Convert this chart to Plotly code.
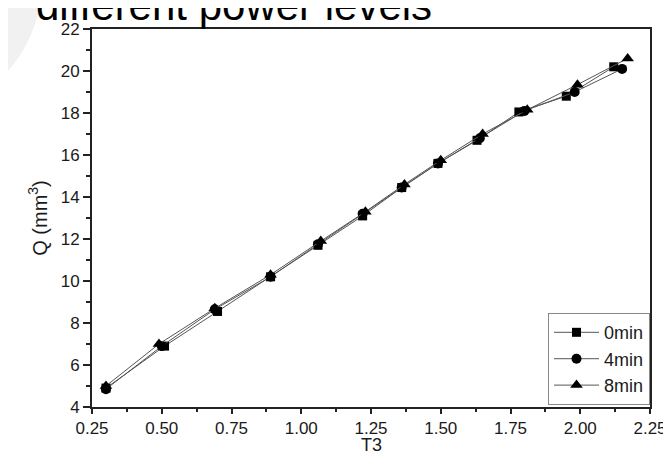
import plotly.graph_objects as go

# Data
t3_0min = [0.30, 0.51, 0.70, 0.89, 1.06, 1.22, 1.36, 1.49, 1.63, 1.78, 1.95, 2.12]
q_0min = [4.90, 6.90, 8.55, 10.20, 11.70, 13.10, 14.45, 15.60, 16.70, 18.05, 18.80, 20.20]

t3_4min = [0.30, 0.50, 0.69, 0.89, 1.06, 1.22, 1.36, 1.49, 1.64, 1.80, 1.98, 2.15]
q_4min = [4.85, 6.90, 8.65, 10.20, 11.75, 13.20, 14.45, 15.60, 16.80, 18.10, 19.00, 20.10]

t3_8min = [0.30, 0.49, 0.69, 0.89, 1.07, 1.23, 1.37, 1.50, 1.65, 1.81, 1.99, 2.17]
q_8min = [5.00, 7.00, 8.70, 10.30, 11.90, 13.30, 14.60, 15.75, 17.00, 18.15, 19.35, 20.60]

series_names = ["0min", "4min", "8min"]
x_ticks = [0.25, 0.50, 0.75, 1.00, 1.25, 1.50, 1.75, 2.00, 2.25]
x_tick_labels = ["0.25", "0.50", "0.75", "1.00", "1.25", "1.50", "1.75", "2.00", "2.25"]
y_ticks = [4, 6, 8, 10, 12, 14, 16, 18, 20, 22]

FONT = "Liberation Sans, Arial, sans-serif"
TXT = "#1a1a1a"

fig = go.Figure()
for name, xs, ys, sym, size in [
    (series_names[0], t3_0min, q_0min, "square", 9),
    (series_names[1], t3_4min, q_4min, "circle", 10),
    (series_names[2], t3_8min, q_8min, "triangle-up", 11),
]:
    fig.add_trace(go.Scatter(
        x=xs, y=ys, name=name, mode="lines+markers",
        line=dict(color="#555555", width=1),
        marker=dict(symbol=sym, size=size, color="black"),
    ))

L, R, T, B = 84, 24, 16, 56
W, H = 671, 455
pw, ph = W - L - R, H - T - B

def px_x(p):
    return (p - L) / pw

def px_y(p):
    return (H - B - p) / ph

# faint decorative circle in the top-left corner
fig.add_shape(type="circle", xref="paper", yref="paper",
              x0=px_x(-233), x1=px_x(33), y0=px_y(103), y1=px_y(-163),
              fillcolor="#f1f1f1", line=dict(width=0), layer="below")

# cut-off caption at the top
fig.add_annotation(text="different power levels", xref="paper", yref="paper",
                   x=px_x(25), y=px_y(-8), xanchor="left", yanchor="middle",
                   showarrow=False,
                   font=dict(family=FONT, size=42, color="black"))

# x axis title
fig.add_annotation(text="T3", xref="paper", yref="paper",
                   x=0.5, y=px_y(437), xanchor="center", yanchor="middle",
                   showarrow=False, borderpad=0,
                   font=dict(family=FONT, size=18, color=TXT))

fig.update_layout(
    width=W, height=H,
    margin=dict(l=L, r=R, t=T, b=B),
    paper_bgcolor="white", plot_bgcolor="white",
    font=dict(family=FONT, size=17, color=TXT),
    showlegend=True,
    legend=dict(x=1, y=0.005, xanchor="right", yanchor="bottom",
                bordercolor="#888888", borderwidth=1, bgcolor="white",
                font=dict(size=18, color=TXT),
                tracegroupgap=0, itemwidth=45),
)
fig.update_xaxes(
    range=[0.25, 2.25], tickvals=x_ticks, ticktext=x_tick_labels,
    showgrid=False, zeroline=False,
    showline=True, linecolor="#222222", linewidth=2, mirror=True,
    ticks="outside", ticklen=5, tickwidth=1.5, tickcolor="#222222",
    minor=dict(ticks="outside", ticklen=3, dtick=0.125, tickcolor="#222222", showgrid=False),
    tickfont=dict(size=17),
)
fig.update_yaxes(
    range=[4, 22], tickvals=y_ticks,
    showgrid=False, zeroline=False,
    showline=True, linecolor="#222222", linewidth=2, mirror=True,
    ticks="outside", ticklen=7, tickwidth=1.5, tickcolor="#222222",
    minor=dict(ticks="outside", ticklen=4, dtick=1, tickcolor="#222222", showgrid=False),
    title=dict(text="Q (mm<sup>3</sup>)", font=dict(size=20, color=TXT), standoff=8),
    tickfont=dict(size=17),
)

fig.write_html("out.html")
